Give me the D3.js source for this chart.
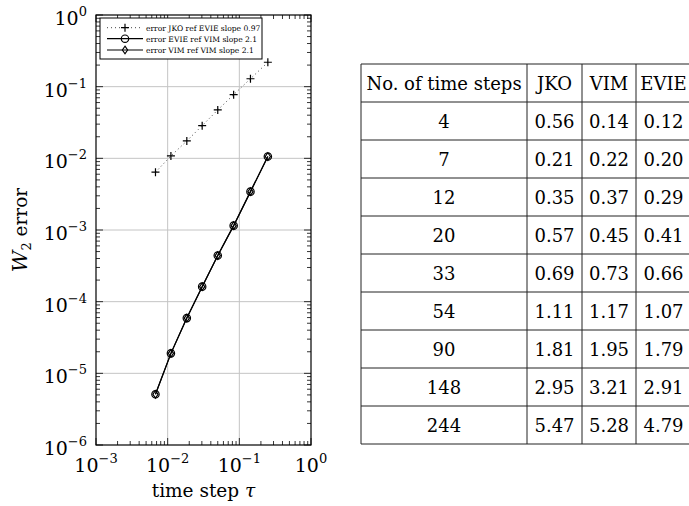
<!DOCTYPE html>
<html>
<head>
<meta charset="utf-8">
<script src="https://cdn.jsdelivr.net/npm/d3@7"></script>
<style>
  body { margin: 0; background: #fff; }
  svg { display: block; }
  text { font-family: "DejaVu Serif", "Liberation Serif", serif; fill: #000; }
</style>
</head>
<body>
<div id="chart"></div>
<script>
// convergence plot data
const tau      = [0.00676, 0.0111, 0.0185, 0.0303, 0.05, 0.0833, 0.143, 0.25];
const errJKO   = [0.0064, 0.0108, 0.0175, 0.0286, 0.0473, 0.0774, 0.129, 0.219];
const errEVIE  = [5.1e-6, 1.9e-5, 5.9e-5, 1.62e-4, 4.4e-4, 1.15e-3, 3.43e-3, 1.06e-2];
const errVIM   = [5.1e-6, 1.9e-5, 5.9e-5, 1.62e-4, 4.4e-4, 1.15e-3, 3.43e-3, 1.06e-2];
const xTicks   = [-3, -2, -1, 0];
const yTicks   = [-6, -5, -4, -3, -2, -1, 0];
const legendLabels = ["error JKO ref EVIE slope 0.97", "error EVIE ref VIM slope 2.1", "error VIM ref VIM slope 2.1"];

// table
const tableHeader = ["No. of time steps", "JKO", "VIM", "EVIE"];
const steps   = [4, 7, 12, 20, 33, 54, 90, 148, 244];
const tabJKO  = [0.56, 0.21, 0.35, 0.57, 0.69, 1.11, 1.81, 2.95, 5.47];
const tabVIM  = [0.14, 0.22, 0.37, 0.45, 0.73, 1.17, 1.95, 3.21, 5.28];
const tabEVIE = [0.12, 0.20, 0.29, 0.41, 0.66, 1.07, 1.79, 2.91, 4.79];

const W = 689, H = 506;
const svg = d3.select("#chart").append("svg").attr("width", W).attr("height", H);

const pLeft = 96, pRight = 311, pTop = 15, pBottom = 445;
const x = d3.scaleLog().domain([1e-3, 1]).range([pLeft, pRight]);
const y = d3.scaleLog().domain([1e-6, 1]).range([pBottom, pTop]);

// grid
const g = svg.append("g");
g.selectAll(".gx").data(xTicks.slice(1, -1)).join("line")
    .attr("x1", d => x(10 ** d)).attr("x2", d => x(10 ** d))
    .attr("y1", pTop).attr("y2", pBottom)
    .attr("stroke", "#c4c4c4").attr("stroke-width", 1);
g.selectAll(".gy").data(yTicks.slice(1, -1)).join("line")
    .attr("y1", d => y(10 ** d)).attr("y2", d => y(10 ** d))
    .attr("x1", pLeft).attr("x2", pRight)
    .attr("stroke", "#c4c4c4").attr("stroke-width", 1);

// minor + major ticks, inward on all sides
function minors(exps) {
  const out = [];
  for (let e = exps[0]; e < exps[exps.length - 1]; e++)
    for (let m = 2; m <= 9; m++) out.push(m * 10 ** e);
  return out;
}
const tk = svg.append("g").attr("stroke", "#000").attr("stroke-width", 0.8);
minors(xTicks).forEach(v => {
  tk.append("line").attr("x1", x(v)).attr("x2", x(v)).attr("y1", pBottom).attr("y2", pBottom - 4);
  tk.append("line").attr("x1", x(v)).attr("x2", x(v)).attr("y1", pTop).attr("y2", pTop + 4);
});
minors(yTicks).forEach(v => {
  tk.append("line").attr("y1", y(v)).attr("y2", y(v)).attr("x1", pLeft).attr("x2", pLeft + 4);
  tk.append("line").attr("y1", y(v)).attr("y2", y(v)).attr("x1", pRight).attr("x2", pRight - 4);
});
xTicks.forEach(e => {
  const v = x(10 ** e);
  tk.append("line").attr("x1", v).attr("x2", v).attr("y1", pBottom).attr("y2", pBottom - 7);
  tk.append("line").attr("x1", v).attr("x2", v).attr("y1", pTop).attr("y2", pTop + 7);
});
yTicks.forEach(e => {
  const v = y(10 ** e);
  tk.append("line").attr("y1", v).attr("y2", v).attr("x1", pLeft).attr("x2", pLeft + 7);
  tk.append("line").attr("y1", v).attr("y2", v).attr("x1", pRight).attr("x2", pRight - 7);
});

// frame
svg.append("rect").attr("x", pLeft).attr("y", pTop).attr("width", pRight - pLeft).attr("height", pBottom - pTop)
  .attr("fill", "none").attr("stroke", "#000").attr("stroke-width", 1.2);

// tick labels
function powLabel(sel, e) {
  sel.append("tspan").text("10").attr("font-size", 19);
  sel.append("tspan").text(e === 0 ? "0" : "\u2212" + Math.abs(e))
    .attr("font-size", 13).attr("dy", -9);
}
xTicks.forEach(e => {
  const t = svg.append("text").attr("x", x(10 ** e)).attr("y", 472).attr("text-anchor", "middle");
  powLabel(t, e);
});
yTicks.forEach(e => {
  const t = svg.append("text").attr("x", 87).attr("y", y(10 ** e) + 10).attr("text-anchor", "end");
  powLabel(t, e);
});

// axis titles
const xt = svg.append("text").attr("x", (pLeft + pRight) / 2).attr("y", 497)
  .attr("text-anchor", "middle").attr("font-size", 18.5);
xt.append("tspan").text("time step ");
xt.append("tspan").text("τ").attr("font-style", "italic");

const yt = svg.append("text").attr("transform", `translate(27,${(pTop + pBottom) / 2}) rotate(-90)`)
  .attr("text-anchor", "middle").attr("font-size", 18.5);
yt.append("tspan").text("W").attr("font-style", "italic").attr("font-size", 21);
yt.append("tspan").text("2").attr("font-size", 13).attr("dy", 4);
yt.append("tspan").text(" error").attr("dy", -4);

// series
const line = d3.line().x(d => x(d[0])).y(d => y(d[1]));
const jkoPts = tau.map((t, i) => [t, errJKO[i]]);
const eviePts = tau.map((t, i) => [t, errEVIE[i]]);
const vimPts = tau.map((t, i) => [t, errVIM[i]]);

svg.append("path").attr("d", line(jkoPts)).attr("fill", "none")
  .attr("stroke", "#444").attr("stroke-width", 1).attr("stroke-dasharray", "1,3");
svg.append("path").attr("d", line(eviePts)).attr("fill", "none").attr("stroke", "#000").attr("stroke-width", 1.2);
svg.append("path").attr("d", line(vimPts)).attr("fill", "none").attr("stroke", "#000").attr("stroke-width", 1.2);

function plus(sel, cx, cy) {
  sel.append("path").attr("d", `M${cx - 4},${cy}H${cx + 4}M${cx},${cy - 4}V${cy + 4}`)
    .attr("stroke", "#000").attr("stroke-width", 1.2);
}
function circle(sel, cx, cy) {
  sel.append("circle").attr("cx", cx).attr("cy", cy).attr("r", 3.7)
    .attr("fill", "none").attr("stroke", "#000").attr("stroke-width", 1.2);
}
function diamond(sel, cx, cy) {
  sel.append("path").attr("d", `M${cx},${cy - 3.8}L${cx + 2.6},${cy}L${cx},${cy + 3.8}L${cx - 2.6},${cy}Z`)
    .attr("fill", "none").attr("stroke", "#000").attr("stroke-width", 1.2);
}
const mk = svg.append("g");
jkoPts.forEach(d => plus(mk, x(d[0]), y(d[1])));
eviePts.forEach(d => circle(mk, x(d[0]), y(d[1])));
vimPts.forEach(d => diamond(mk, x(d[0]), y(d[1])));

// legend
const lg = svg.append("g");
lg.append("rect").attr("x", 100).attr("y", 18).attr("width", 162).attr("height", 41)
  .attr("fill", "#fff").attr("stroke", "#000").attr("stroke-width", 1);
const rowsY = [27.7, 38.7, 50];
const markerFns = [plus, circle, diamond];
legendLabels.forEach((lab, i) => {
  const ly = rowsY[i];
  lg.append("line").attr("x1", 107).attr("x2", 143).attr("y1", ly).attr("y2", ly)
    .attr("stroke", i === 0 ? "#444" : "#000").attr("stroke-width", i === 0 ? 1 : 1.2)
    .attr("stroke-dasharray", i === 0 ? "1,3" : null);
  markerFns[i](lg, 125, ly);
  lg.append("text").attr("x", 146).attr("y", ly + 2.8).attr("font-size", 7.6).text(lab);
});

// table
const colX = [361, 527, 582, 636, 691];
const tTop = 64, rowH = 38;
const tb = svg.append("g");
const rowsData = [tableHeader].concat(steps.map((s, i) =>
  [String(s), tabJKO[i].toFixed(2), tabVIM[i].toFixed(2), tabEVIE[i].toFixed(2)]));
rowsData.forEach((r, ri) => {
  r.forEach((c, ci) => {
    tb.append("text").attr("x", (colX[ci] + colX[ci + 1]) / 2)
      .attr("y", tTop + ri * rowH + rowH / 2 + 6.5)
      .attr("text-anchor", "middle").attr("font-size", 18).text(c);
  });
});
for (let i = 0; i <= rowsData.length; i++) {
  tb.append("line").attr("x1", colX[0]).attr("x2", colX[4])
    .attr("y1", tTop + i * rowH).attr("y2", tTop + i * rowH)
    .attr("stroke", "#222").attr("stroke-width", 1);
}
colX.forEach(cx => {
  tb.append("line").attr("x1", cx).attr("x2", cx)
    .attr("y1", tTop).attr("y2", tTop + rowsData.length * rowH)
    .attr("stroke", "#222").attr("stroke-width", 1);
});
</script>
</body>
</html>
